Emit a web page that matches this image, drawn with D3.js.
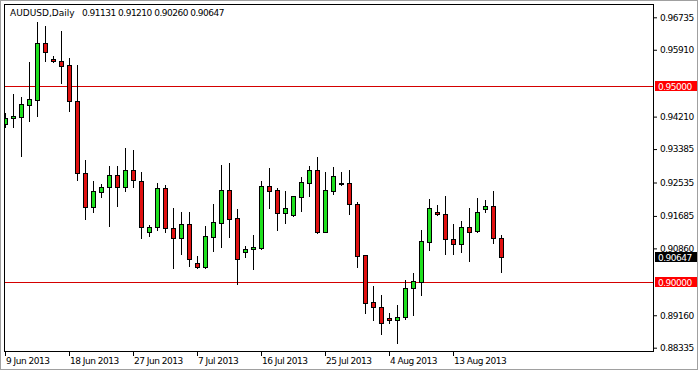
<!DOCTYPE html>
<html>
<head>
<meta charset="utf-8">
<title>AUDUSD Daily</title>
<script src="https://d3js.org/d3.v7.min.js"></script>
<style>
  body { margin: 0; background: #fff; }
  svg { display: block; }
  text { font-family: "DejaVu Sans", sans-serif; font-size: 9px; fill: #000; }
  .num { letter-spacing: -0.5px; }
</style>
</head>
<body>
<svg width="698" height="371"></svg>
<script>
// daily bars, 9 Jun 2013 .. 20 Aug 2013 (broker has Sunday bars)
var dates = ["2013-06-09","2013-06-10","2013-06-11","2013-06-12","2013-06-13","2013-06-14","2013-06-16","2013-06-17",
  "2013-06-18","2013-06-19","2013-06-20","2013-06-21","2013-06-23","2013-06-24","2013-06-25","2013-06-26",
  "2013-06-27","2013-06-28","2013-06-30","2013-07-01","2013-07-02","2013-07-03","2013-07-04","2013-07-05",
  "2013-07-07","2013-07-08","2013-07-09","2013-07-10","2013-07-11","2013-07-12","2013-07-14","2013-07-15",
  "2013-07-16","2013-07-17","2013-07-18","2013-07-19","2013-07-21","2013-07-22","2013-07-23","2013-07-24",
  "2013-07-25","2013-07-26","2013-07-28","2013-07-29","2013-07-30","2013-07-31","2013-08-01","2013-08-02",
  "2013-08-04","2013-08-05","2013-08-06","2013-08-07","2013-08-08","2013-08-09","2013-08-11","2013-08-12",
  "2013-08-13","2013-08-14","2013-08-15","2013-08-16","2013-08-18","2013-08-19","2013-08-20"];

var open = [0.94022,0.94167,0.94208,0.94505,0.94640,0.96074,0.95683,0.95616,0.95515,0.94607,
  0.92769,0.91919,0.92301,0.92413,0.92718,0.92428,0.92853,0.92581,0.91284,0.91396,
  0.92387,0.91378,0.91136,0.91474,0.90480,0.90394,0.91157,0.91513,0.92344,0.91625,
  0.90760,0.90836,0.90877,0.92446,0.92344,0.91767,0.91708,0.92174,0.92530,0.92853,
  0.91284,0.92326,0.92522,0.92530,0.91988,0.90691,0.89489,0.89377,0.89097,0.89039,
  0.89107,0.89845,0.90013,0.91030,0.91777,0.91726,0.91091,0.90963,0.91411,0.91302,
  0.91853,0.91937,0.91131];
var high = [0.94302,0.94785,0.94716,0.95606,0.96623,0.96514,0.95744,0.96394,0.95708,0.95522,
  0.93107,0.92581,0.92489,0.92954,0.92954,0.93412,0.93361,0.92794,0.91454,0.92514,
  0.92471,0.91879,0.91792,0.91792,0.90666,0.91429,0.91988,0.92980,0.93023,0.91861,
  0.90920,0.91200,0.92573,0.92896,0.92387,0.92326,0.92200,0.92667,0.92954,0.93176,
  0.92809,0.92921,0.92809,0.92853,0.92047,0.90691,0.89903,0.89674,0.89224,0.89420,
  0.90056,0.90226,0.91327,0.92115,0.91963,0.92192,0.91480,0.91564,0.91879,0.92133,
  0.92090,0.92319,0.91210];
var low = [0.93946,0.93946,0.93209,0.94098,0.94233,0.95632,0.95591,0.95057,0.94360,0.92591,
  0.91599,0.91792,0.92174,0.91436,0.91945,0.92326,0.92428,0.91116,0.91182,0.91327,
  0.91269,0.90353,0.90709,0.90412,0.90361,0.90361,0.90801,0.90887,0.91157,0.89954,
  0.90633,0.90328,0.90844,0.91879,0.91327,0.91513,0.91691,0.91810,0.92199,0.91258,
  0.91276,0.92242,0.92471,0.91734,0.90394,0.89209,0.89039,0.88690,0.88970,0.88461,
  0.89056,0.89166,0.89674,0.90819,0.91720,0.90709,0.90709,0.90775,0.90546,0.91269,
  0.91777,0.91004,0.90260];
var close = [0.94175,0.94233,0.94531,0.94658,0.96074,0.95861,0.95616,0.95505,0.94607,0.92769,
  0.91919,0.92319,0.92420,0.92718,0.92428,0.92853,0.92598,0.91396,0.91396,0.92387,
  0.91370,0.91131,0.91474,0.90582,0.90394,0.91175,0.91538,0.92344,0.91607,0.90582,
  0.90844,0.90902,0.92446,0.92326,0.91767,0.91894,0.92192,0.92540,0.92853,0.91269,
  0.92344,0.92700,0.92509,0.91980,0.90674,0.89479,0.89362,0.88975,0.89039,0.89123,
  0.89845,0.90038,0.91047,0.91879,0.91726,0.91091,0.90963,0.91411,0.91284,0.91792,
  0.91937,0.91116,0.90647];

var priceTicks = [0.96735, 0.95910, 0.94210, 0.93385, 0.92535, 0.91685, 0.90860, 0.89160, 0.88335];
var levels = [0.95000, 0.90000];
var symbol = "AUDUSD,Daily";

var svg = d3.select("svg");
var pl = 4, pr = 653, pt = 4, pb = 351;

var x = d3.scaleLinear().domain([0, dates.length - 1]).range([5, 5 + 8 * (dates.length - 1)]);
var y = d3.scaleLinear().domain([0.88335, 0.96735]).range([347.7, 17.3]);
var parse = d3.timeParse("%Y-%m-%d"), fmt = d3.timeFormat("%-d %b %Y");
var f5 = d3.format(".5f");

// window border
svg.append("rect").attr("x", 0.5).attr("y", 0.5).attr("width", 697).attr("height", 369)
  .attr("fill", "none").attr("stroke", "#a0a0a0");

svg.append("clipPath").attr("id", "clip").append("rect")
  .attr("x", pl + 1).attr("y", pt + 1).attr("width", pr - pl - 1).attr("height", pb - pt - 1);
var g = svg.append("g").attr("clip-path", "url(#clip)");

// horizontal levels
g.selectAll(".lvl").data(levels).enter().append("line")
  .attr("x1", pl).attr("x2", pr)
  .attr("y1", function(d) { return Math.round(y(d)) + 0.5; })
  .attr("y2", function(d) { return Math.round(y(d)) + 0.5; })
  .attr("stroke", "#d40000").attr("stroke-width", 1);

var bars = d3.range(dates.length);
var cx = function(i) { return Math.round(x(i)); };

// wicks
g.selectAll(".wick").data(bars).enter().append("line")
  .attr("x1", function(i) { return cx(i) + 0.5; })
  .attr("x2", function(i) { return cx(i) + 0.5; })
  .attr("y1", function(i) { return Math.round(y(high[i])); })
  .attr("y2", function(i) { return Math.round(y(low[i])) + 1; })
  .attr("stroke", "#000").attr("stroke-width", 1);

// bodies
var bt = function(i) { return Math.round(y(Math.max(open[i], close[i]))); };
var bb = function(i) { return Math.round(y(Math.min(open[i], close[i]))); };
g.selectAll(".body").data(bars).enter().append("rect")
  .attr("x", function(i) { return cx(i) - 2; })
  .attr("y", bt)
  .attr("width", 5)
  .attr("height", function(i) { return Math.max(bb(i) - bt(i), 1) + 1; })
  .attr("fill", "#000");
g.selectAll(".fill").data(bars.filter(function(i) { return bb(i) - bt(i) >= 2; })).enter().append("rect")
  .attr("x", function(i) { return cx(i) - 1; })
  .attr("y", function(i) { return bt(i) + 1; })
  .attr("width", 3)
  .attr("height", function(i) { return bb(i) - bt(i) - 1; })
  .attr("fill", function(i) { return close[i] >= open[i] ? "#1ee01e" : "#e01010"; });

// frame
svg.append("rect").attr("x", pl + 0.5).attr("y", pt + 0.5)
  .attr("width", pr - pl).attr("height", pb - pt)
  .attr("fill", "none").attr("stroke", "#000");

// price axis
var ya = svg.append("g").attr("transform", "translate(" + (pr + 1) + ",0)")
  .call(d3.axisRight(y).tickValues(priceTicks).tickSize(3).tickPadding(3).tickFormat(f5));
ya.select(".domain").remove();
ya.selectAll("text").attr("class", "num").style("font-family", "DejaVu Sans").style("font-size", "9px");

// time axis
var tickIdx = bars.filter(function(i) { return i % 8 === 0; });
var xa = svg.append("g").attr("transform", "translate(0," + (pb + 1) + ")");
xa.selectAll("line").data(tickIdx).enter().append("line")
  .attr("x1", function(i) { return cx(i) + 0.5; }).attr("x2", function(i) { return cx(i) + 0.5; })
  .attr("y1", 0).attr("y2", 4).attr("stroke", "#000");
xa.selectAll("text").data(tickIdx).enter().append("text")
  .attr("class", "num")
  .attr("x", function(i) { return cx(i) + 1; }).attr("y", 12)
  .text(function(i) { return fmt(parse(dates[i])); });

// price boxes
var last = close.length - 1;
var boxes = [
  { v: levels[0], bg: "#ff0000" },
  { v: close[last], bg: "#000" },
  { v: levels[1], bg: "#ff0000" }
];
var bx = svg.selectAll(".box").data(boxes).enter().append("g")
  .attr("transform", function(d) { return "translate(655," + (Math.round(y(d.v)) - 5) + ")"; });
bx.append("rect").attr("width", 42).attr("height", 10).attr("fill", function(d) { return d.bg; });
bx.append("text").attr("class", "num").attr("x", 3).attr("y", 8.5).style("fill", "#fff")
  .text(function(d) { return f5(d.v); });

// header
svg.append("text").attr("x", 10).attr("y", 16).text(symbol);
svg.append("text").attr("class", "num").attr("x", 82).attr("y", 16)
  .text([open[last], high[last], low[last], close[last]].map(f5).join(" "));
</script>
</body>
</html>
